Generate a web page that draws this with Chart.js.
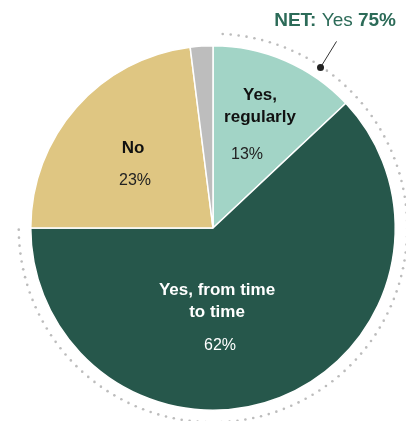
<!DOCTYPE html>
<html>
<head>
<meta charset="utf-8">
<script src="https://cdn.jsdelivr.net/npm/chart.js@4"></script>
<style>
html,body{margin:0;padding:0;background:#fff;}
#wrap{position:relative;width:406px;height:421px;}
</style>
</head>
<body>
<div id="wrap"><canvas id="c" width="406" height="421"></canvas></div>
<script>
const categories = ["Yes, regularly", "Yes, from time to time", "No", "No answer"];
const values = [13, 62, 23, 2];
const colors = ["#a2d4c6", "#26574b", "#dfc682", "#bdbdbd"];
const netLabel = "NET:";
const netYes = "Yes";
const netValue = 75;

const FONT = '"Liberation Sans Narrow", "Liberation Sans", Arial, sans-serif';

const overlay = {
  id: 'overlay',
  afterDatasetsDraw(chart) {
    const ctx = chart.ctx;
    const meta = chart.getDatasetMeta(0);
    const a0 = meta.data[0];
    const cx = a0.x, cy = a0.y, R = a0.outerRadius;
    // dotted NET arc covering the two "Yes" slices
    const start = meta.data[0].startAngle + 0.05;
    const end = meta.data[1].endAngle;
    const rr = R + 12;
    const step = 8 / rr;
    ctx.save();
    ctx.fillStyle = '#bcbcbc';
    for (let a = start; a <= end + 1e-6; a += step) {
      ctx.beginPath();
      ctx.arc(cx + rr * Math.cos(a), cy + rr * Math.sin(a), 1.3, 0, Math.PI * 2);
      ctx.fill();
    }
    // marker dot + leader line
    const ma = -Math.PI / 2 + 0.59;
    const mx = cx + (rr - 1) * Math.cos(ma), my = cy + (rr - 1) * Math.sin(ma);
    ctx.strokeStyle = '#333';
    ctx.lineWidth = 1;
    ctx.beginPath();
    ctx.moveTo(mx, my);
    ctx.lineTo(mx + 16, my - 26);
    ctx.stroke();
    ctx.fillStyle = '#222';
    ctx.beginPath();
    ctx.arc(mx, my, 3.5, 0, Math.PI * 2);
    ctx.fill();

    // NET label
    ctx.textBaseline = 'alphabetic';
    ctx.textAlign = 'left';
    const parts = [
      {t: netLabel + ' ', f: 'bold 19px ' + FONT},
      {t: netYes + ' ', f: '19px ' + FONT},
      {t: netValue + '%', f: 'bold 19px ' + FONT}
    ];
    let w = 0;
    parts.forEach(p => { ctx.font = p.f; w += ctx.measureText(p.t).width; });
    let x = cx + 183 - w;
    ctx.fillStyle = '#2c6b58';
    parts.forEach(p => { ctx.font = p.f; ctx.fillText(p.t, x, 26); x += ctx.measureText(p.t).width; });

    // slice labels
    ctx.textAlign = 'center';
    ctx.textBaseline = 'middle';
    const lab = [
      {lines: ["Yes,", "regularly"], dx: 47, dy: -133, pdx: 34, pdy: -73, col: '#111', pcol: '#222'},
      {lines: ["Yes, from time", "to time"], dx: 4, dy: 62, pdx: 7, pdy: 118, col: '#fff', pcol: '#fff'},
      {lines: ["No"], dx: -80, dy: -80, pdx: -78, pdy: -47, col: '#111', pcol: '#222'}
    ];
    lab.forEach((l, i) => {
      ctx.fillStyle = l.col;
      ctx.font = 'bold 17px ' + FONT;
      l.lines.forEach((s, j) => ctx.fillText(s, cx + l.dx, cy + l.dy + j * 22));
      ctx.fillStyle = l.pcol;
      ctx.font = '16px ' + FONT;
      ctx.fillText(values[i] + '%', cx + l.pdx, cy + l.pdy);
    });
    ctx.restore();
  }
};

new Chart(document.getElementById('c'), {
  type: 'pie',
  data: {
    labels: categories,
    datasets: [{
      data: values,
      backgroundColor: colors,
      borderColor: '#ffffff',
      borderWidth: 1.5
    }]
  },
  options: {
    responsive: false,
    animation: false,
    layout: {padding: {left: 30, right: 10, top: 45, bottom: 10}},
    plugins: {legend: {display: false}, tooltip: {enabled: false}}
  },
  plugins: [overlay]
});
</script>
</body>
</html>
